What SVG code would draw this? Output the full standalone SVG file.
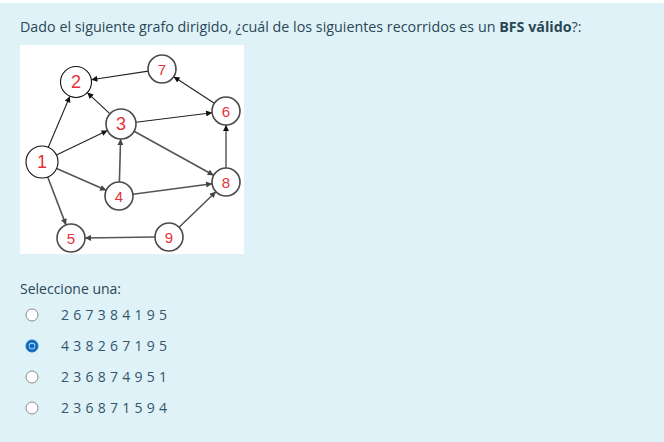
<svg xmlns="http://www.w3.org/2000/svg" width="664" height="442" viewBox="0 0 664 442">
<defs>
<style>
.t{font-family:"Open Sans","Noto Sans","Liberation Sans",sans-serif;fill:#2b4756;}
.nd{fill:#fff;stroke:#4a4a4a;stroke-width:1.6;}
.nd1{fill:#fff;stroke:#111;stroke-width:1.1;}
.lb{font-family:"Liberation Sans","Open Sans",sans-serif;fill:#e8303a;text-anchor:middle;dominant-baseline:central;}
.e{stroke:#555;stroke-width:1.6;fill:none;marker-end:url(#ah);}
.ek{stroke:#222;stroke-width:1.1;fill:none;marker-end:url(#ahk);}
.opt{font-family:"Open Sans","Noto Sans","Liberation Sans",sans-serif;font-size:14px;fill:#35566a;letter-spacing:0.3px;}
.rb{fill:#fff;stroke:#8a8a8a;stroke-width:1;}
</style>
<marker id="ah" viewBox="0 0 10 10" refX="10" refY="5" markerWidth="7" markerHeight="6" markerUnits="userSpaceOnUse" orient="auto"><path d="M0,0 L10,5 L0,10 z" fill="#444"/></marker>
<marker id="ahk" viewBox="0 0 10 10" refX="10" refY="5" markerWidth="7" markerHeight="6" markerUnits="userSpaceOnUse" orient="auto"><path d="M0,0 L10,5 L0,10 z" fill="#111"/></marker>
</defs>
<rect x="0" y="0" width="664" height="442" fill="#def2f8"/>
<rect x="0" y="0" width="664" height="3" fill="#ffffff"/>
<text class="t" x="20" y="32" font-size="14.3">Dado el siguiente grafo dirigido, ¿cuál de los siguientes recorridos es un <tspan font-weight="bold">BFS válido</tspan>?:</text>
<rect x="20" y="45" width="224" height="209" fill="#ffffff"/>
<g id="edges">
<line class="ek" x1="48.3" y1="147.3" x2="69.9" y2="96.3"/>
<line class="ek" x1="56.4" y1="155.1" x2="107.5" y2="130.5"/>
<line class="ek" x1="110" y1="113.8" x2="87.3" y2="92.6"/>
<line class="ek" x1="148.2" y1="71.1" x2="91.3" y2="79.7"/>
<line class="ek" x1="214.3" y1="103.3" x2="173.7" y2="76.7"/>
<line class="ek" x1="135.9" y1="122.2" x2="212.1" y2="112.7"/>
<line class="e" x1="134.1" y1="131.2" x2="213.7" y2="175.2"/>
<line class="e" x1="119.4" y1="182" x2="120.6" y2="139"/>
<line class="ek" x1="226" y1="168" x2="226" y2="125"/>
<line class="e" x1="56.6" y1="168.5" x2="106.2" y2="190.3"/>
<line class="e" x1="47.7" y1="177" x2="66" y2="224.9"/>
<line class="e" x1="132.9" y1="194.2" x2="212.1" y2="183.8"/>
<line class="e" x1="155" y1="237" x2="85" y2="238"/>
<line class="e" x1="179.1" y1="227.3" x2="215.9" y2="191.7"/>
</g>
<g id="n1"><circle class="nd1" cx="42" cy="162" r="16"/><text class="lb" x="42" y="162" font-size="18">1</text></g>
<g id="n2"><circle class="nd1" cx="76" cy="82" r="15.5"/><text class="lb" x="76" y="82" font-size="18">2</text></g>
<g id="n3"><circle class="nd" cx="121" cy="124" r="15"/><text class="lb" x="121" y="124" font-size="18">3</text></g>
<g id="n4"><circle class="nd" cx="119" cy="196" r="14"/><text class="lb" x="119" y="196" font-size="15">4</text></g>
<g id="n5"><circle class="nd" cx="71" cy="238" r="14"/><text class="lb" x="71" y="238" font-size="15">5</text></g>
<g id="n6"><circle class="nd" cx="226" cy="111" r="14"/><text class="lb" x="226" y="111" font-size="15">6</text></g>
<g id="n7"><circle class="nd" cx="162" cy="69" r="14"/><text class="lb" x="162" y="69" font-size="15">7</text></g>
<g id="n8"><circle class="nd" cx="226" cy="182" r="14"/><text class="lb" x="226" y="182" font-size="15">8</text></g>
<g id="n9"><circle class="nd" cx="169" cy="237" r="14"/><text class="lb" x="169" y="237" font-size="15">9</text></g>
<text class="t" x="20" y="294" font-size="14">Seleccione una:</text>
<g id="options">
<circle class="rb" cx="32" cy="315" r="6"/>
<text class="opt" x="61" y="320">2 6 7 3 8 4 1 9 5</text>
<circle cx="32" cy="346" r="6" fill="#0f6cbf" stroke="#0f6cbf" stroke-width="1"/>
<circle cx="32" cy="346" r="3.2" fill="#ffffff"/>
<circle cx="32" cy="346" r="2.6" fill="#0f6cbf"/>
<text class="opt" x="61" y="351">4 3 8 2 6 7 1 9 5</text>
<circle class="rb" cx="32" cy="377" r="6"/>
<text class="opt" x="61" y="382">2 3 6 8 7 4 9 5 1</text>
<circle class="rb" cx="32" cy="408" r="6"/>
<text class="opt" x="61" y="413">2 3 6 8 7 1 5 9 4</text>
</g>
</svg>
